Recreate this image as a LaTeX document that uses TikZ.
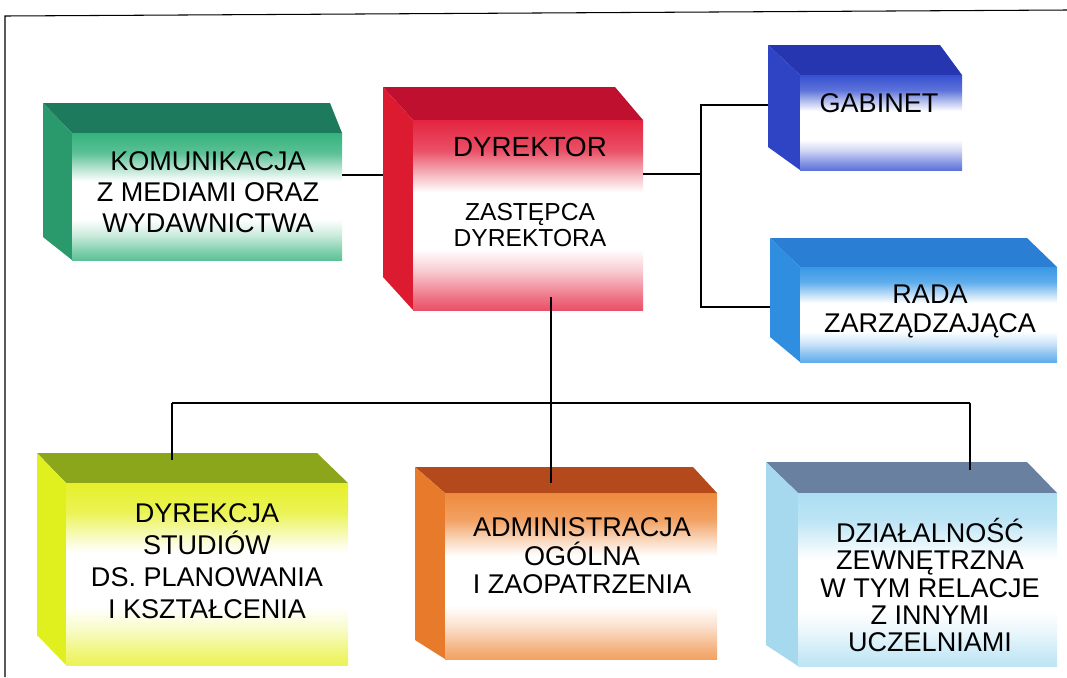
\documentclass[tikz,border=0pt]{standalone}
\usepackage{fontspec}
\setmainfont{Liberation Sans}
\usetikzlibrary{fit}
\definecolor{komtop}{HTML}{1D7A5C}\definecolor{komside}{HTML}{2A9A6C}\definecolor{komfrontc}{HTML}{34B27C}
\definecolor{dyrtop}{HTML}{C01030}\definecolor{dyrside}{HTML}{DC1A30}\definecolor{dyrfrontc}{HTML}{E42440}
\definecolor{gabtop}{HTML}{2636B0}\definecolor{gabside}{HTML}{2E44C4}\definecolor{gabfrontc}{HTML}{3550D0}
\definecolor{radatop}{HTML}{2A7ED4}\definecolor{radaside}{HTML}{2F8EE0}\definecolor{radafrontc}{HTML}{3898E6}
\definecolor{dkstop}{HTML}{8CA61C}\definecolor{dksside}{HTML}{DFF01E}\definecolor{dksfrontc}{HTML}{E6F02A}
\definecolor{admtop}{HTML}{B44A1C}\definecolor{admside}{HTML}{E87A2C}\definecolor{admfrontc}{HTML}{EE8A3C}
\definecolor{dzitop}{HTML}{6A80A0}\definecolor{dziside}{HTML}{A6D8EE}\definecolor{dzifrontc}{HTML}{ACDEF2}
\newcommand\mkfront[2]{\pgfdeclareverticalshading{#1}{100bp}{color(0bp)=(#2!80); color(25bp)=(#2!80); color(29bp)=(#2!60); color(35bp)=(#2!25); color(41bp)=(white); color(56bp)=(white); color(61bp)=(#2!35); color(67bp)=(#2!80); color(75bp)=(#2); color(100bp)=(#2)}}
\mkfront{komfront}{komfrontc}
\mkfront{dyrfront}{dyrfrontc}
\mkfront{gabfront}{gabfrontc}
\mkfront{radafront}{radafrontc}
\mkfront{dksfront}{dksfrontc}
\mkfront{admfront}{admfrontc}
\mkfront{dzifront}{dzifrontc}
% #1 name, #2 #3 front top-left, #4 #5 front bottom-right, #6 back-left x, #7 back-top y, #8 back-right x, #9 left-bottom y
\newcommand\cubebox[9]{%
  \fill[#1top] (#6,#7) -- (#8,#7) -- (#4,#3) -- (#2,#3) -- cycle;
  \fill[#1side] (#6,#7) -- (#2,#3) -- (#2,#5) -- (#6,#9) -- cycle;
  \shade[shading=#1front] (#2,#3) rectangle (#4,#5);
  \node[boxarea, fit={(#6,#7) (#4,#5)}] (#1) {};
}
\newcommand\fnt[2]{\fontsize{#1}{#2}\selectfont}
\begin{document}
\begin{tikzpicture}[x=0.02cm,y=-0.02cm,
  boxarea/.style={inner sep=0pt, outer sep=0pt},
  lbl/.style={align=center, inner sep=0pt, text=black},
  conn/.style={draw=black, line width=0.7pt},
  frame/.style={draw=black, line width=0.6pt}]
\useasboundingbox (0,0) rectangle (1067,677);
\draw[frame] (5,677) -- (5,16) -- (1067,10);
% boxes
\cubebox{kom}{72}{133}{342}{260}{43}{103}{330}{237}
\cubebox{dyr}{413}{120}{643}{310}{383}{87}{615}{277}
\cubebox{gab}{800}{75}{962}{170}{768}{45}{940}{147}
\cubebox{rada}{800}{267}{1057}{362}{770}{238}{1027}{337}
\cubebox{dks}{66}{483}{348}{665}{37}{453}{317}{635}
\cubebox{adm}{445}{493}{717}{659}{415}{467}{693}{640}
\cubebox{dzi}{798}{493}{1057}{666}{766}{462}{1027}{645}
% labels
\node[lbl, font=\fnt{15.4}{17.6}] (komT) at (208,192) {KOMUNIKACJA\\Z MEDIAMI ORAZ\\WYDAWNICTWA};
\node[lbl, font=\fnt{15.8}{17.6}] (dyrT) at (530,147) {DYREKTOR};
\node[lbl, font=\fnt{14.0}{14.3}] (zasT) at (530,225) {ZASTĘPCA\\DYREKTORA};
\node[lbl, font=\fnt{15.4}{16.5}] (gabT) at (879,103) {GABINET};
\node[lbl, font=\fnt{15.4}{16.5}] (radaT) at (930,311) {RADA\\ZARZĄDZAJĄCA};
\node[lbl, font=\fnt{15.4}{18.2}] (dksT) at (207,561) {DYREKCJA\\STUDIÓW\\DS. PLANOWANIA\\I KSZTAŁCENIA};
\node[lbl, font=\fnt{15.4}{16.2}] (admT) at (582,556) {ADMINISTRACJA\\OGÓLNA\\I ZAOPATRZENIA};
\node[lbl, font=\fnt{15.4}{15.4}] (dziT) at (930,585) {DZIAŁALNOŚĆ\\ZEWNĘTRZNA\\W TYM RELACJE\\Z INNYMI\\UCZELNIAMI};
% connectors
\coordinate (rbus) at (701,174);
\coordinate (busL) at (172,403);
\coordinate (busR) at (970,403);
\coordinate (mid) at (551,403);
\draw[conn] (kom.east |- 0,175) -- (dyr.west |- 0,175);
\draw[conn] (dyr.east |- rbus) -- (rbus);
\draw[conn] (gab.west |- 0,105) -- (rbus |- 0,105) -- (rbus |- 0,307) -- (rada.west |- 0,307);
\draw[conn] (mid |- 0,297) -- (mid |- 0,483);
\draw[conn] (busL) -- (busR);
\draw[conn] (busL) -- (busL |- 0,460);
\draw[conn] (busR) -- (busR |- 0,470);
\end{tikzpicture}
\end{document}
